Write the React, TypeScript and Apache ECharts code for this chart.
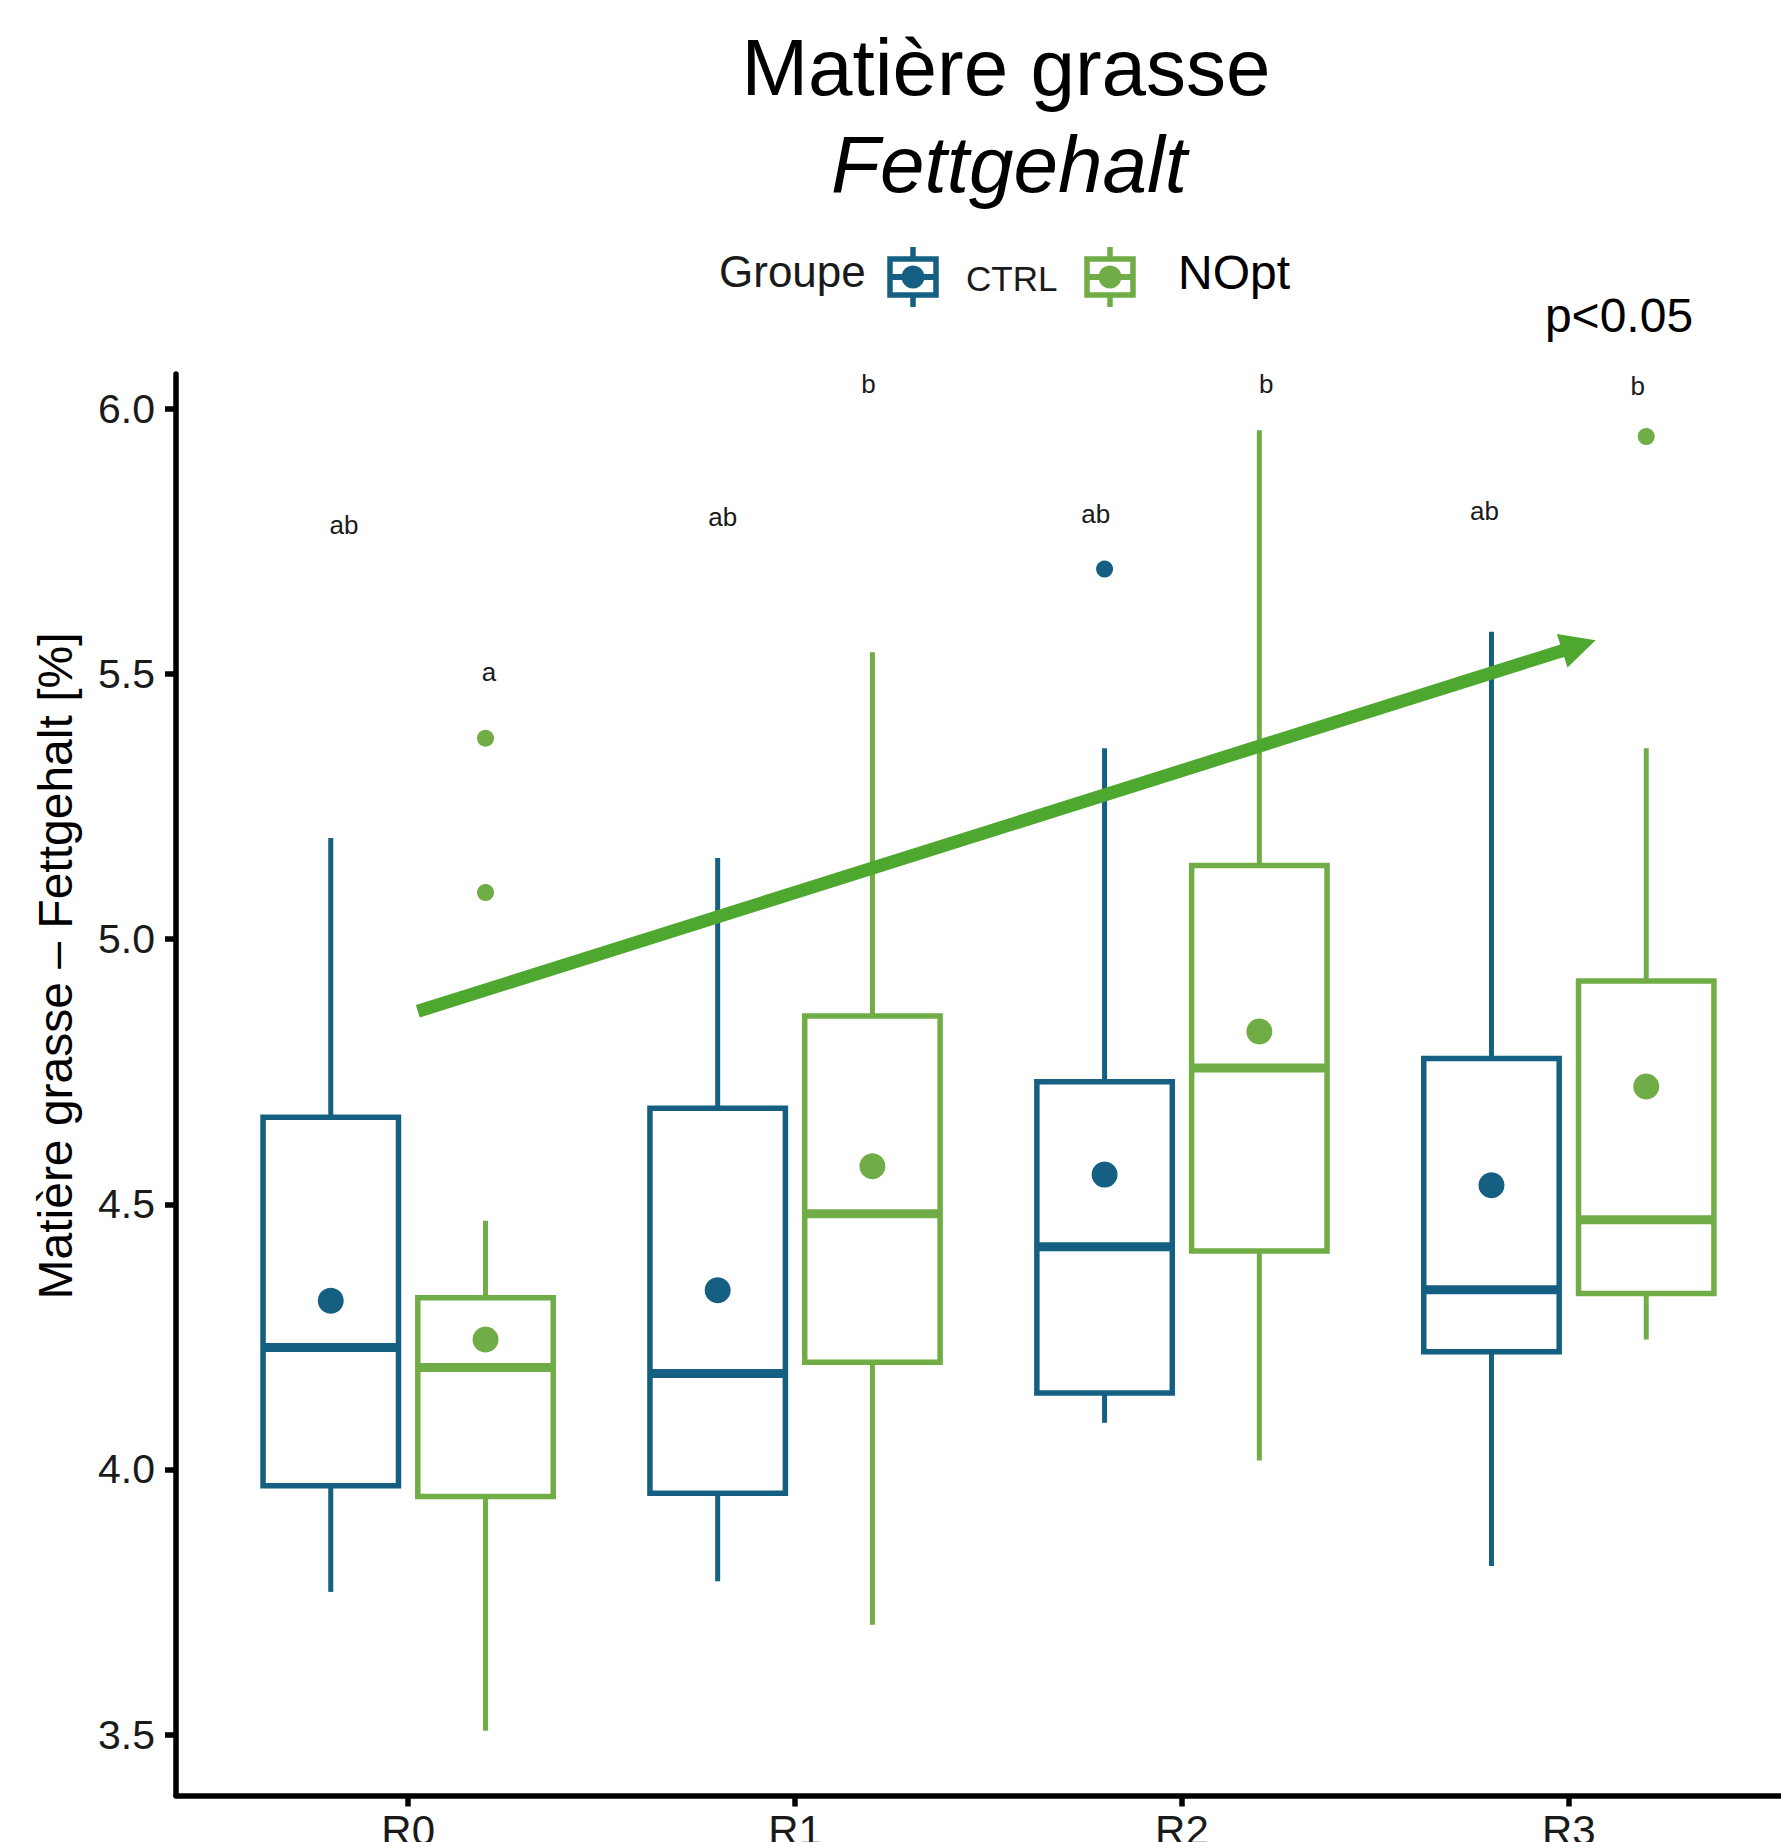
import React, { useEffect, useRef } from "react";
import * as echarts from "echarts";

// ---------- data ----------
const categories = ["R0", "R1", "R2", "R3"];
const groupNames = ["CTRL", "NOpt"];

const ctrlLow = [3.769, 3.789, 4.088, 3.818];
const ctrlQ1 = [3.969, 3.955, 4.144, 4.222];
const ctrlMedian = [4.23, 4.181, 4.42, 4.339];
const ctrlQ3 = [4.664, 4.681, 4.731, 4.775];
const ctrlHigh = [5.191, 5.153, 5.36, 5.58];
const ctrlMean = [4.318, 4.338, 4.556, 4.536];
const ctrlOutliers = [[], [], [5.698], []];

const noptLow = [3.507, 3.707, 4.017, 4.245];
const noptQ1 = [3.949, 4.202, 4.412, 4.332];
const noptMedian = [4.192, 4.482, 4.757, 4.471];
const noptQ3 = [4.324, 4.855, 5.139, 4.921];
const noptHigh = [4.469, 5.541, 5.96, 5.36];
const noptMean = [4.245, 4.572, 4.826, 4.722];
const noptOutliers = [[5.379, 5.088], [], [], [5.948]];

// significance letters (value = height of the letter)
const ctrlLetters = ["ab", "ab", "ab", "ab"];
const ctrlLetterY = [5.781, 5.796, 5.802, 5.808];
const noptLetters = ["a", "b", "b", "b"];
const noptLetterY = [5.504, 6.047, 6.047, 6.043];

const yTicks = [3.5, 4.0, 4.5, 5.0, 5.5, 6.0];
const yMin = 3.385;
const yMax = 6.066;

// trend arrow (data coordinates)
const trendStart = [1.025, 4.864];
const trendEnd = [4.026, 5.554];

// ---------- styling ----------
const CTRL_COLOR = "#156082";
const NOPT_COLOR = "#70AD47";
const ARROW_COLOR = "#4EA72E";
const FONT = "'Liberation Sans', Arial, sans-serif";
const DODGE = 0.2;
const BOX_WIDTH = 0.35;
// small horizontal placement nudges of the letters (category units), as in the original
const CTRL_LETTER_NUDGE = [0.034, 0.013, -0.023, -0.018];
const NOPT_LETTER_NUDGE = [0.009, -0.01, 0.018, -0.022];

function boxData(low: number[], q1: number[], med: number[], q3: number[], high: number[], offset: number) {
  return categories.map((_, i) => [i + 1 + offset, low[i], q1[i], med[i], q3[i], high[i]]);
}

function boxSeries(name: string, data: number[][], color: string) {
  return {
    name,
    type: "custom",
    coordinateSystem: "cartesian2d",
    encode: { x: 0, y: [1, 2, 3, 4, 5] },
    data,
    z: 2,
    renderItem: (params: any, api: any) => {
      const x = api.value(0);
      const low = api.coord([x, api.value(1)]);
      const q1 = api.coord([x, api.value(2)]);
      const med = api.coord([x, api.value(3)]);
      const q3 = api.coord([x, api.value(4)]);
      const high = api.coord([x, api.value(5)]);
      const halfW = api.size([BOX_WIDTH, 0])[0] / 2;
      return {
        type: "group",
        children: [
          {
            type: "line",
            shape: { x1: low[0], y1: low[1], x2: q1[0], y2: q1[1] },
            style: { stroke: color, lineWidth: 5 },
          },
          {
            type: "line",
            shape: { x1: q3[0], y1: q3[1], x2: high[0], y2: high[1] },
            style: { stroke: color, lineWidth: 5 },
          },
          {
            type: "rect",
            shape: { x: q3[0] - halfW, y: q3[1], width: halfW * 2, height: q1[1] - q3[1] },
            style: { fill: "#ffffff", stroke: color, lineWidth: 5.5 },
          },
          {
            type: "line",
            shape: { x1: med[0] - halfW, y1: med[1], x2: med[0] + halfW, y2: med[1] },
            style: { stroke: color, lineWidth: 9 },
          },
        ],
      };
    },
  };
}

function letterSeries(letters: string[], ys: number[], offset: number, nudge: number[]) {
  return {
    type: "custom",
    coordinateSystem: "cartesian2d",
    encode: { x: 0, y: 1 },
    data: categories.map((_, i) => [i + 1 + offset + nudge[i], ys[i]]),
    z: 3,
    renderItem: (params: any, api: any) => {
      const p = api.coord([api.value(0), api.value(1)]);
      return {
        type: "text",
        x: p[0],
        y: p[1],
        style: {
          text: letters[params.dataIndex],
          font: `26px ${FONT}`,
          fill: "#1a1a1a",
          textAlign: "center",
          textVerticalAlign: "middle",
        },
      };
    },
  };
}

function legendGlyph(cx: number, cy: number, color: string) {
  return {
    type: "group",
    children: [
      { type: "line", shape: { x1: cx, y1: cy - 30, x2: cx, y2: cy + 30 }, style: { stroke: color, lineWidth: 5.5 } },
      { type: "rect", shape: { x: cx - 23, y: cy - 18, width: 46, height: 36 }, style: { fill: "#fff", stroke: color, lineWidth: 5.5 } },
      { type: "line", shape: { x1: cx - 23, y1: cy, x2: cx + 23, y2: cy }, style: { stroke: color, lineWidth: 6 } },
      { type: "circle", shape: { cx, cy, r: 11.5 }, style: { fill: color } },
    ],
  };
}

export default function App() {
  const ref = useRef<HTMLDivElement>(null);

  useEffect(() => {
    if (!ref.current) return;
    const chart = echarts.init(ref.current, null, { renderer: "svg" });

    const ctrlOutlierData: number[][] = [];
    ctrlOutliers.forEach((arr, i) => arr.forEach((v) => ctrlOutlierData.push([i + 1 - DODGE, v])));
    const noptOutlierData: number[][] = [];
    noptOutliers.forEach((arr, i) => arr.forEach((v) => noptOutlierData.push([i + 1 + DODGE, v])));

    const option: any = {
      animation: false,
      backgroundColor: "#ffffff",
      grid: {
        left: 176,
        right: -20,
        top: 374,
        bottom: 46.5,
        containLabel: false,
        outerBoundsMode: "none",
      },
      xAxis: {
        type: "value",
        min: 0.4,
        max: 4.6,
        splitLine: { show: false },
        axisLine: { show: true, onZero: false, lineStyle: { color: "#000", width: 5.5 } },
        axisTick: {
          show: true,
          length: 11,
          customValues: [1, 2, 3, 4],
          lineStyle: { color: "#000", width: 5.5 },
        },
        axisLabel: {
          show: true,
          customValues: [1, 2, 3, 4],
          formatter: (v: number) => categories[Math.round(v) - 1] ?? "",
          fontFamily: FONT,
          fontSize: 42,
          color: "#1a1a1a",
          margin: 14,
        },
      },
      yAxis: {
        type: "value",
        min: yMin,
        max: yMax,
        splitLine: { show: false },
        axisLine: { show: true, onZero: false, lineStyle: { color: "#000", width: 5.5 } },
        axisTick: {
          show: true,
          length: 11,
          customValues: yTicks,
          lineStyle: { color: "#000", width: 5.5 },
        },
        axisLabel: {
          show: true,
          customValues: yTicks,
          formatter: (v: number) => v.toFixed(1),
          fontFamily: FONT,
          fontSize: 41,
          color: "#1a1a1a",
          margin: 21,
        },
      },
      series: [
        boxSeries(groupNames[0], boxData(ctrlLow, ctrlQ1, ctrlMedian, ctrlQ3, ctrlHigh, -DODGE), CTRL_COLOR),
        boxSeries(groupNames[1], boxData(noptLow, noptQ1, noptMedian, noptQ3, noptHigh, DODGE), NOPT_COLOR),
        {
          name: "CTRL mean",
          type: "scatter",
          data: categories.map((_, i) => [i + 1 - DODGE, ctrlMean[i]]),
          symbolSize: 26,
          itemStyle: { color: CTRL_COLOR, opacity: 1 },
          z: 4,
          silent: true,
        },
        {
          name: "NOpt mean",
          type: "scatter",
          data: categories.map((_, i) => [i + 1 + DODGE, noptMean[i]]),
          symbolSize: 26,
          itemStyle: { color: NOPT_COLOR, opacity: 1 },
          z: 4,
          silent: true,
        },
        {
          name: "CTRL outliers",
          type: "scatter",
          data: ctrlOutlierData,
          symbolSize: 17,
          itemStyle: { color: CTRL_COLOR, opacity: 1 },
          z: 4,
          silent: true,
        },
        {
          name: "NOpt outliers",
          type: "scatter",
          data: noptOutlierData,
          symbolSize: 17,
          itemStyle: { color: NOPT_COLOR, opacity: 1 },
          z: 4,
          silent: true,
        },
        letterSeries(ctrlLetters, ctrlLetterY, -DODGE, CTRL_LETTER_NUDGE),
        {
          ...letterSeries(noptLetters, noptLetterY, DODGE, NOPT_LETTER_NUDGE),
          markLine: {
            silent: true,
            z: 10,
            symbol: ["none", "triangle"],
            symbolSize: [35, 35],
            label: { show: false },
            lineStyle: { color: ARROW_COLOR, width: 13, type: "solid" },
            itemStyle: { color: ARROW_COLOR },
            emphasis: { disabled: true },
            data: [
              [
                { coord: trendStart, symbol: "none" },
                { coord: trendEnd, symbol: "triangle", symbolSize: [35, 35] },
              ],
            ],
          },
        },
      ],
      graphic: [
        {
          type: "text",
          x: 1006,
          y: 67,
          style: { text: "Matière grasse", font: `80px ${FONT}`, fill: "#000", textAlign: "center", textVerticalAlign: "middle" },
        },
        {
          type: "text",
          x: 1009,
          y: 164,
          style: { text: "Fettgehalt", font: `italic 80px ${FONT}`, fill: "#000", textAlign: "center", textVerticalAlign: "middle" },
        },
        {
          type: "text",
          x: 719,
          y: 271,
          style: { text: "Groupe", font: `44px ${FONT}`, fill: "#1a1a1a", textAlign: "left", textVerticalAlign: "middle" },
        },
        legendGlyph(913, 277, CTRL_COLOR),
        {
          type: "text",
          x: 966,
          y: 278,
          style: { text: groupNames[0], font: `35px ${FONT}`, fill: "#1a1a1a", textAlign: "left", textVerticalAlign: "middle" },
        },
        legendGlyph(1110, 277, NOPT_COLOR),
        {
          type: "text",
          x: 1178,
          y: 272,
          style: { text: groupNames[1], font: `48px ${FONT}`, fill: "#000", textAlign: "left", textVerticalAlign: "middle" },
        },
        {
          type: "text",
          x: 1619,
          y: 315,
          style: { text: "p<0.05", font: `48px ${FONT}`, fill: "#000", textAlign: "center", textVerticalAlign: "middle" },
        },
        {
          type: "text",
          x: 55,
          y: 966,
          rotation: Math.PI / 2,
          style: {
            text: "Matière grasse – Fettgehalt [%]",
            font: `48px ${FONT}`,
            fill: "#000",
            textAlign: "center",
            textVerticalAlign: "middle",
          },
        },
      ],
    };

    chart.setOption(option);
    return () => {
      chart.dispose();
    };
  }, []);

  return (
    <div
      ref={ref}
      style={{ position: "absolute", left: 0, top: 0, width: 1781, height: 1842, background: "#fff" }}
    />
  );
}
